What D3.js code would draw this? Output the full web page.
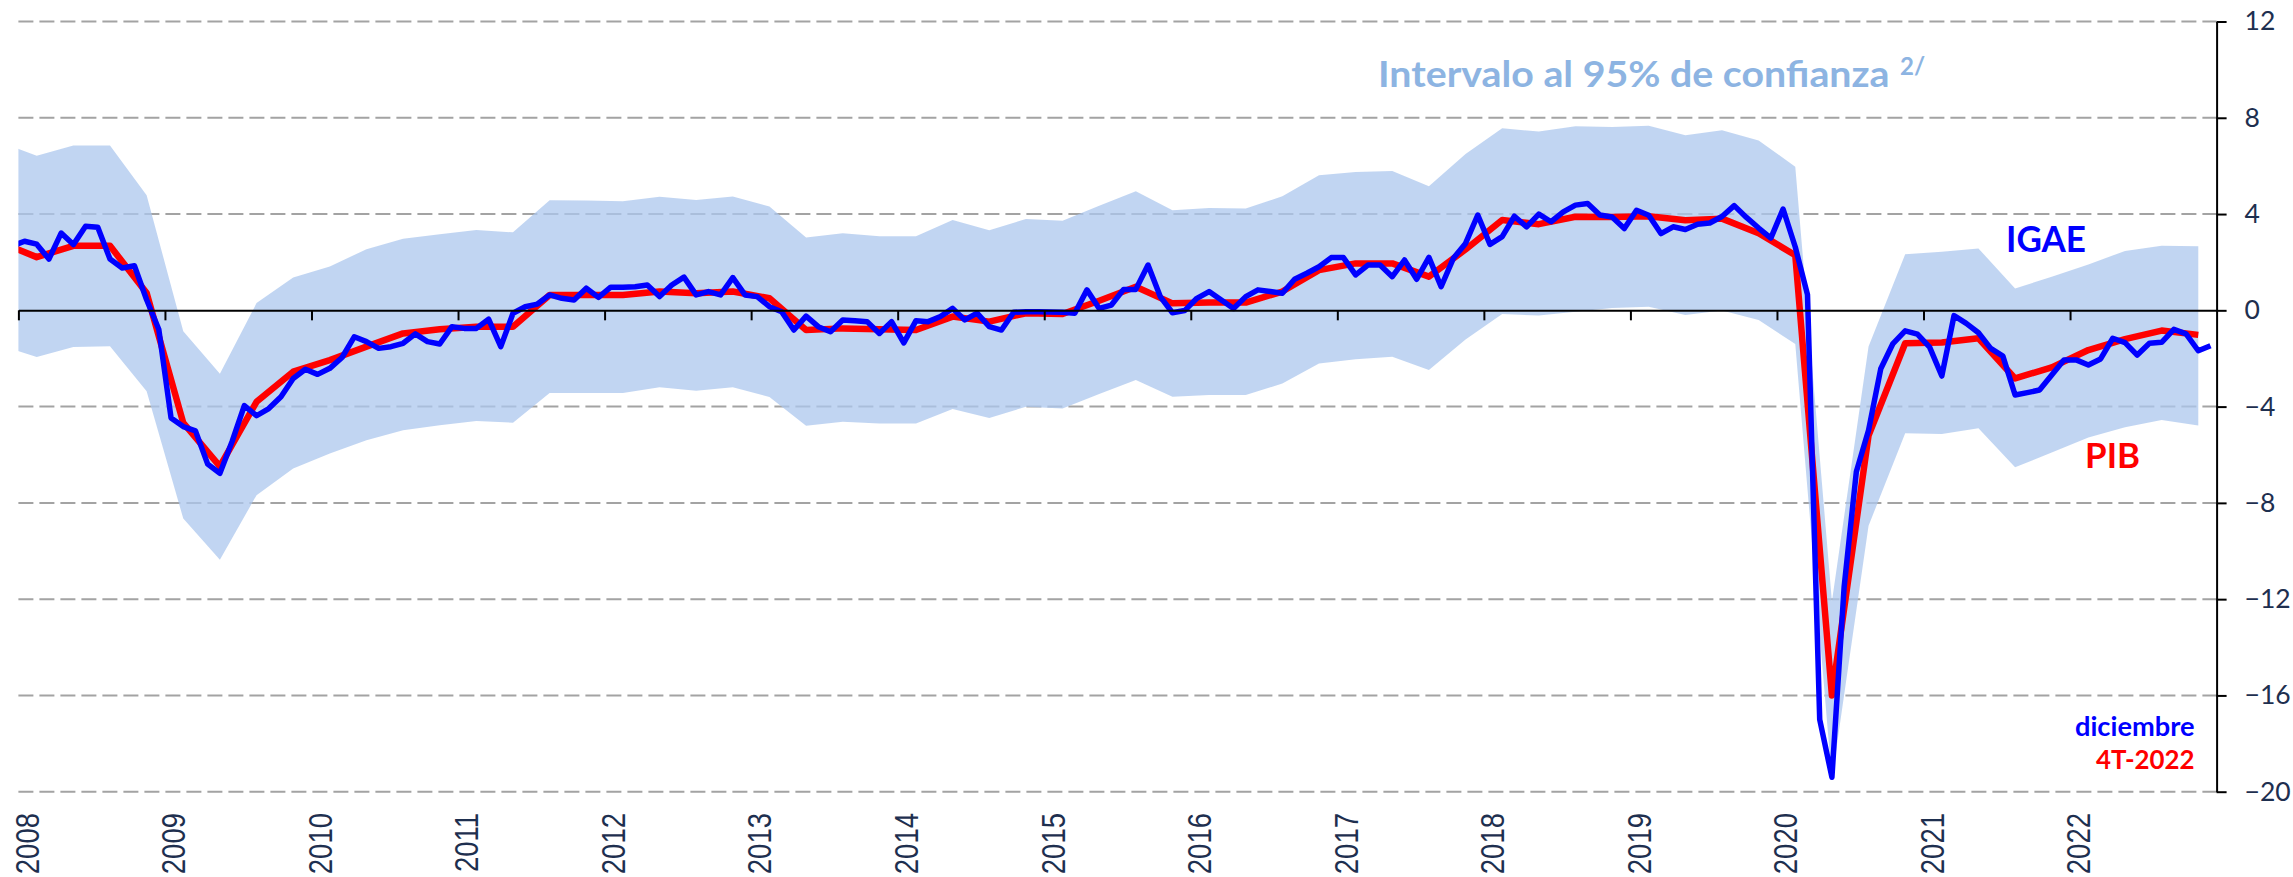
<!DOCTYPE html>
<html>
<head>
<meta charset="utf-8">
<script src="https://cdn.jsdelivr.net/npm/d3@7"></script>
<style>
  html, body { margin: 0; padding: 0; background: #ffffff; }
  svg { display: block; }
</style>
</head>
<body>
<svg id="chart" width="2293" height="877"></svg>
<script>
// ---------------- DATA ----------------
const yearTicks = [2008, 2009, 2010, 2011, 2012, 2013, 2014, 2015, 2016, 2017, 2018, 2019, 2020, 2021, 2022];
const yTicks = [12, 8, 4, 0, -4, -8, -12, -16, -20];

// IGAE, monthly annual variation, first value = Dec 2007, then Jan 2008 ... Dec 2022
const igaeFirstMonth = "2007-12";
const igae = [
  2.67,
  2.87, 2.75, 2.13, 3.21, 2.73, 3.49, 3.45, 2.13, 1.76, 1.85, 0.44, -0.80,
  -4.47, -4.83, -5.01, -6.39, -6.77, -5.45, -3.96, -4.38, -4.08, -3.59, -2.83, -2.45,
  -2.66, -2.41, -1.96, -1.10, -1.30, -1.58, -1.51, -1.37, -0.98, -1.30, -1.40, -0.68,
  -0.75, -0.75, -0.37, -1.51, -0.12, 0.15, 0.26, 0.64, 0.50, 0.43, 0.92, 0.54,
  0.96, 0.96, 0.98, 1.05, 0.57, 1.05, 1.38, 0.64, 0.78, 0.64, 1.36, 0.64,
  0.57, 0.15, -0.06, -0.82, -0.24, -0.68, -0.89, -0.40, -0.43, -0.47, -0.96, -0.47,
  -1.35, -0.43, -0.47, -0.26, 0.08, -0.40, -0.12, -0.68, -0.82, -0.08, -0.06, -0.06,
  -0.07, -0.08, -0.12, 0.85, 0.08, 0.22, 0.87, 0.87, 1.88, 0.57, -0.10, -0.01,
  0.50, 0.78, 0.43, 0.08, 0.57, 0.85, 0.78, 0.71, 1.29, 1.54, 1.81, 2.19,
  2.19, 1.47, 1.88, 1.88, 1.40, 2.09, 1.29, 2.20, 0.98, 2.16, 2.78, 3.96,
  2.74, 3.06, 3.91, 3.47, 4.00, 3.68, 4.09, 4.37, 4.44, 3.96, 3.88, 3.40,
  4.16, 3.95, 3.19, 3.47, 3.36, 3.58, 3.63, 3.90, 4.35, 3.86, 3.42, 3.00,
  4.21, 2.63, 0.65, -17.0, -19.4, -11.5, -6.71, -4.98, -2.43, -1.38, -0.85, -0.99,
  -1.53, -2.73, -0.22, -0.54, -0.93, -1.58, -1.90, -3.52, -3.42, -3.31, -2.69, -2.06,
  -2.06, -2.27, -2.02, -1.16, -1.34, -1.86, -1.37, -1.33, -0.79, -0.98, -1.68, -1.47
];

// PIB, quarterly annual variation, first value = Q4 2007, then Q1 2008 ... Q4 2022
const pibFirstQuarter = "2007-Q4";
const pib = [
  2.83,
  2.21, 2.68, 2.68, 0.72,
  -4.68, -6.48, -3.80, -2.55,
  -2.07, -1.51, -0.96, -0.79,
  -0.68, -0.68, 0.64, 0.64,
  0.64, 0.78, 0.71, 0.78,
  0.50, -0.82, -0.75, -0.79,
  -0.82, -0.26, -0.47, -0.12,
  -0.15, 0.40, 0.98, 0.29,
  0.32, 0.32, 0.78, 1.67,
  1.95, 1.95, 1.40, 2.53,
  3.75, 3.58, 3.89, 3.88,
  3.91, 3.74, 3.81, 3.20,
  2.29, -16.0, -5.20, -1.37,
  -1.34, -1.16, -2.83, -2.37,
  -1.65, -1.20, -0.84, -1.02
];

// 95% confidence interval (quarterly, same quarters as pib)
const bandUpper = [
  7.00,
  6.42, 6.85, 6.85, 4.78,
  -0.87, -2.64, 0.30, 1.36,
  1.82, 2.54, 2.97, 3.16,
  3.34, 3.24, 4.57, 4.56,
  4.53, 4.72, 4.58, 4.73,
  4.31, 3.03, 3.20, 3.08,
  3.08, 3.75, 3.33, 3.79,
  3.72, 4.35, 4.95, 4.16,
  4.25, 4.23, 4.74, 5.61,
  5.75, 5.79, 5.16, 6.49,
  7.56, 7.43, 7.65, 7.62,
  7.67, 7.27, 7.48, 7.06,
  5.97, -12.1, -1.50, 2.33,
  2.43, 2.57, 0.91, 1.39,
  1.90, 2.47, 2.68, 2.66
];
const bandLower = [
  -1.46,
  -1.94, -1.52, -1.49, -3.36,
  -8.65, -10.36, -7.68, -6.57,
  -5.95, -5.40, -4.98, -4.77,
  -4.60, -4.67, -3.43, -3.43,
  -3.43, -3.20, -3.34, -3.20,
  -3.60, -4.80, -4.63, -4.70,
  -4.70, -4.10, -4.47, -4.01,
  -4.08, -3.48, -2.90, -3.59,
  -3.52, -3.52, -3.04, -2.21,
  -2.03, -1.93, -2.48, -1.21,
  -0.15, -0.22, -0.06, 0.10,
  0.15, -0.19, -0.01, -0.40,
  -1.40, -19.5, -8.95, -5.11,
  -5.14, -4.90, -6.52, -5.91,
  -5.28, -4.86, -4.56, -4.79
];

const bandLabel = "Intervalo al 95% de confianza";
const bandLabelNote = "2/";
const igaeLabel = "IGAE";
const pibLabel = "PIB";
const igaeLastLabel = "diciembre";
const pibLastLabel = "4T-2022";

// ---------------- LAYOUT ----------------
const svg = d3.select("#chart");
const X0 = 18.4, X1 = 2216.6, YTOP = 21.5, YBOT = 791.7;
const navy = "#1E2F4F";

const x = d3.scaleLinear().domain([2008, 2023]).range([X0, X1]);
const y = d3.scaleLinear().domain([-20, 12]).range([YBOT, YTOP]);

// time positions: monthly at mid-month, quarterly at mid-quarter
const fm = igaeFirstMonth.split("-").map(Number);
const monthT = i => fm[0] + (fm[1] - 1 + i + 0.5) / 12;
const fq = pibFirstQuarter.split("-Q").map(Number);
const quarterT = i => fq[0] + ((fq[1] - 1 + i) * 3 + 1.5) / 12;

const igaeData = igae.map((v, i) => ({ t: monthT(i), v }));
const pibData = pib.map((v, i) => ({ t: quarterT(i), v }));
const bandData = bandUpper.map((u, i) => ({ t: quarterT(i), u, l: bandLower[i] }));

svg.append("defs").append("clipPath").attr("id", "plotClip")
  .append("rect").attr("x", X0).attr("y", 0).attr("width", 2293 - X0).attr("height", 877);

// gridlines
svg.append("g").selectAll("line")
  .data(yTicks.filter(d => d !== 0))
  .join("line")
  .attr("x1", X0).attr("x2", X1)
  .attr("y1", d => y(d)).attr("y2", d => y(d))
  .attr("stroke", "#A3A3A3").attr("stroke-width", 2)
  .attr("stroke-dasharray", "15 6");

const plot = svg.append("g").attr("clip-path", "url(#plotClip)");

// band
plot.append("path")
  .datum(bandData)
  .attr("fill", "#ACC7EE").attr("fill-opacity", 0.75)
  .attr("d", d3.area().x(d => x(d.t)).y0(d => y(d.l)).y1(d => y(d.u)));

// zero axis with year ticks
const xAxisG = svg.append("g").attr("transform", `translate(0,${y(0)})`)
  .call(d3.axisBottom(x).tickValues(yearTicks).tickSize(10).tickSizeOuter(0).tickFormat(""));
xAxisG.select(".domain").attr("stroke", "#000").attr("stroke-width", 2);
xAxisG.selectAll(".tick line").attr("stroke", "#000").attr("stroke-width", 2);

// lines
plot.append("path")
  .datum(pibData)
  .attr("fill", "none").attr("stroke", "#FF0000").attr("stroke-width", 6.5)
  .attr("stroke-linejoin", "round")
  .attr("d", d3.line().x(d => x(d.t)).y(d => y(d.v)));

plot.append("path")
  .datum(igaeData)
  .attr("fill", "none").attr("stroke", "#0000FF").attr("stroke-width", 5.5)
  .attr("stroke-linejoin", "round")
  .attr("d", d3.line().x(d => x(d.t)).y(d => y(d.v)));

// right axis
const yAxisG = svg.append("g").attr("transform", `translate(${X1},0)`)
  .call(d3.axisRight(y).tickValues(yTicks).tickSize(10).tickSizeOuter(0).tickPadding(18).tickFormat(d3.format("d")));
yAxisG.select(".domain").attr("stroke", "#000").attr("stroke-width", 2);
yAxisG.selectAll(".tick line").attr("stroke", "#000").attr("stroke-width", 2);
yAxisG.selectAll(".tick text")
  .attr("font-family", "Lato, 'Open Sans', sans-serif")
  .attr("font-size", 26.5).attr("fill", navy);

// year labels (rotated)
const xLab = svg.append("g").attr("transform", "translate(0,813)")
  .call(d3.axisBottom(x).tickValues(yearTicks).tickSize(0).tickFormat(d3.format("d")));
xLab.select(".domain").remove();
xLab.selectAll(".tick text")
  .attr("y", 0).attr("dy", "0.36em")
  .attr("text-anchor", "end")
  .attr("transform", "translate(8,0) rotate(-90) scale(1,1.19)")
  .attr("font-family", "'Liberation Sans', Arial, sans-serif")
  .attr("font-size", 27.5).attr("fill", navy);

// annotations
const ann = svg.append("g").attr("font-family", "Lato, 'Open Sans', sans-serif").attr("font-weight", "bold");
ann.append("text").attr("x", 1378).attr("y", 87.3)
  .attr("font-size", 37).attr("fill", "#8DB4E2")
  .attr("textLength", 511.5).attr("lengthAdjust", "spacingAndGlyphs")
  .text(bandLabel);
ann.append("text").attr("x", 1900).attr("y", 75)
  .attr("font-size", 24).attr("fill", "#8DB4E2")
  .text(bandLabelNote);
ann.append("text").attr("x", 2006).attr("y", 251.7)
  .attr("font-size", 36).attr("fill", "#0000FF")
  .attr("textLength", 80).attr("lengthAdjust", "spacingAndGlyphs")
  .text(igaeLabel);
ann.append("text").attr("x", 2085).attr("y", 468.3)
  .attr("font-size", 35).attr("fill", "#FF0000")
  .attr("textLength", 55).attr("lengthAdjust", "spacingAndGlyphs")
  .text(pibLabel);
ann.append("text").attr("x", 2075).attr("y", 736.3)
  .attr("font-size", 26).attr("fill", "#0000FF")
  .attr("textLength", 119.5).attr("lengthAdjust", "spacingAndGlyphs")
  .text(igaeLastLabel);
ann.append("text").attr("x", 2096).attr("y", 768.7)
  .attr("font-size", 26).attr("fill", "#FF0000")
  .attr("textLength", 98.5).attr("lengthAdjust", "spacingAndGlyphs")
  .text(pibLastLabel);
</script>
</body>
</html>
